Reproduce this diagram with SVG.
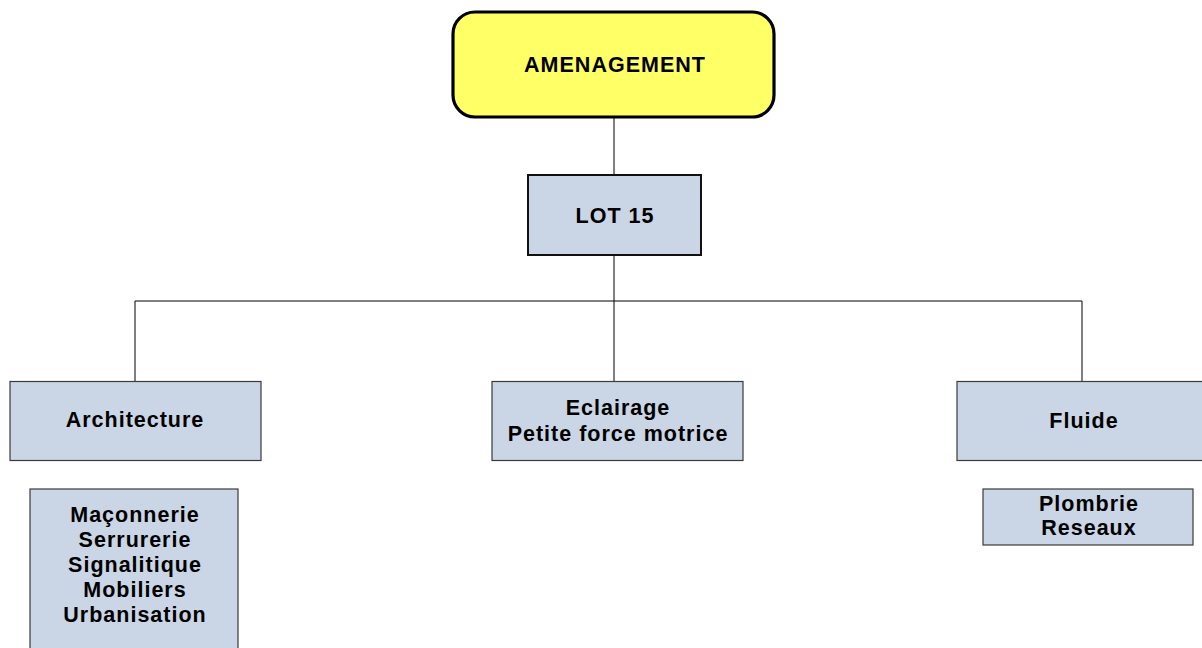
<svg xmlns="http://www.w3.org/2000/svg" width="1202" height="648" viewBox="0 0 1202 648">
<style>
.box{fill:#CAD6E5;stroke:#3a3a3a;stroke-width:1.2}
.lot{fill:#CAD6E5;stroke:#111;stroke-width:2}
.root{fill:#FFFF66;stroke:#000;stroke-width:3.2}
.t{font-family:"Liberation Sans",Arial,sans-serif;font-weight:bold;font-size:21.5px;letter-spacing:1px;fill:#000;text-anchor:middle}
.c{fill:none;stroke:#000;stroke-width:1}
</style>
<rect width="1202" height="648" fill="#fff"/>
<g id="connectors">
<line class="c" x1="614" y1="118" x2="614" y2="175"/>
<line class="c" x1="614" y1="255" x2="614" y2="381"/>
<polyline class="c" points="135,381 135,301 1082,301 1082,381"/>
</g>
<g id="amenagement">
<rect class="root" x="453" y="12" width="321" height="105" rx="22" ry="22"/>
<text class="t" x="615" y="72">AMENAGEMENT</text>
</g>
<g id="lot15">
<rect class="lot" x="528" y="175" width="173" height="80"/>
<text class="t" x="615" y="223">LOT 15</text>
</g>
<g id="architecture">
<rect class="box" x="10" y="381.5" width="251" height="79"/>
<text class="t" x="135" y="427">Architecture</text>
</g>
<g id="eclairage">
<rect class="box" x="492" y="381.5" width="251" height="79"/>
<text class="t" x="618" y="415">Eclairage</text>
<text class="t" x="618" y="441">Petite force motrice</text>
</g>
<g id="fluide">
<rect class="box" x="957" y="381.5" width="251" height="79"/>
<text class="t" x="1084" y="428">Fluide</text>
</g>
<g id="architecture-details">
<rect class="box" x="30" y="489" width="208" height="170"/>
<text class="t" x="135" y="522">Maçonnerie</text>
<text class="t" x="135" y="547">Serrurerie</text>
<text class="t" x="135" y="572">Signalitique</text>
<text class="t" x="135" y="597">Mobiliers</text>
<text class="t" x="135" y="622">Urbanisation</text>
</g>
<g id="fluide-details">
<rect class="box" x="983" y="489" width="210" height="56"/>
<text class="t" x="1089" y="511">Plombrie</text>
<text class="t" x="1089" y="535">Reseaux</text>
</g>
</svg>
